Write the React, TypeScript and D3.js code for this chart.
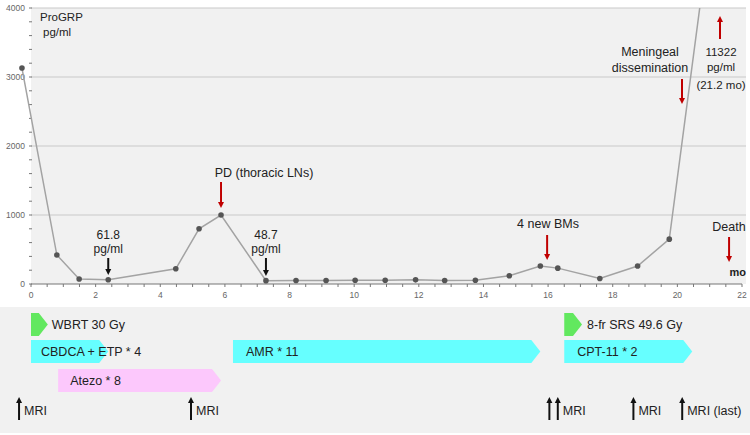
import React from 'react';
import * as d3 from 'd3';

// ProGRP course (months, pg/ml)
const months = [-0.28, 0.8, 1.49, 2.39, 4.48, 5.2, 5.88, 7.27, 8.2, 9.13, 10.03, 10.96, 11.9, 12.8, 13.75, 14.8, 15.76, 16.3, 17.6, 18.77, 19.75, 22.75];
const progrp = [3130, 420, 72, 61.8, 220, 800, 1000, 48.7, 50, 50, 55, 55, 60, 50, 55, 120, 260, 230, 80, 260, 650, 11322];

const xTicks = [0, 2, 4, 6, 8, 10, 12, 14, 16, 18, 20, 22];
const yTicks = [0, 1000, 2000, 3000, 4000];

// treatment bars: start / end month, row
const treatments = [
  { label: 'WBRT 30 Gy', start: 0, end: 0.52, row: 0, color: '#62e85f', dx: 4 },
  { label: 'CBDCA + ETP * 4', start: 0, end: 2.39, row: 1, color: '#66ffff', dx: 10 },
  { label: 'AMR * 11', start: 6.25, end: 15.76, row: 1, color: '#66ffff', dx: 13 },
  { label: 'Atezo * 8', start: 0.84, end: 5.88, row: 2, color: '#fcc8fc', dx: 12 },
  { label: '8-fr SRS 49.6 Gy', start: 16.5, end: 17.05, row: 0, color: '#62e85f', dx: 5 },
  { label: 'CPT-11 * 2', start: 16.5, end: 20.46, row: 1, color: '#66ffff', dx: 13 },
];

const mriMonths = [-0.37, 4.95, 16.04, 16.3, 18.64, 20.15];
const mriLabels = ['MRI', 'MRI', '', 'MRI', 'MRI', 'MRI (last)'];

const FONT = '"Liberation Sans", Arial, sans-serif';

const Arrow = ({ x, y1, y2, color }: { x: number; y1: number; y2: number; color: string }) => {
  // y1 = tail, y2 = tip
  const dir = y2 > y1 ? 1 : -1;
  return (
    <g>
      <line x1={x} x2={x} y1={y1} y2={y2 - dir * 5} stroke={color} strokeWidth={2} />
      <path d={`M${x - 3},${y2 - dir * 6} L${x + 3},${y2 - dir * 6} L${x},${y2} Z`} fill={color} />
    </g>
  );
};

const App = () => {
  const w = 750, h = 435;
  const x = d3.scaleLinear().domain([0, 22]).range([31, 742]);
  const y = d3.scaleLinear().domain([0, 4000]).range([284, 8]);

  const line = d3.line<number>()
    .x((d, i) => x(months[i]))
    .y(d => y(d));

  const minorX = d3.range(0, 22.01, 0.5);
  const minorY = d3.range(0, 4001, 200);

  const rowY = [313, 340, 369];
  const barH = 23;

  return (
    <svg width={w} height={h} style={{ position: 'absolute', left: 0, top: 0, fontFamily: FONT }}>
      <defs>
        <clipPath id="plot">
          <rect x={0} y={y(4000)} width={w} height={y(0) - y(4000)} />
        </clipPath>
      </defs>
      <rect x={0} y={0} width={w} height={h} fill="#fff" />
      {/* plot area */}
      <rect x={x(0)} y={y(4000)} width={x(22) - x(0) + 4} height={y(0) - y(4000)} fill="#f1f1f1" />
      {yTicks.filter(t => t > 0).map(t => (
        <line key={t} x1={x(0)} x2={x(22) + 4} y1={y(t)} y2={y(t)} stroke="#c9c9c9" strokeWidth={1.2} />
      ))}
      {/* y ticks */}
      {minorY.map(t => (
        <line key={'my' + t} x1={x(0) - 2} x2={x(0) + 1} y1={y(t)} y2={y(t)} stroke="#777" strokeWidth={1} />
      ))}
      {yTicks.map(t => (
        <text key={'yl' + t} x={x(0) - 6} y={y(t) + 3} textAnchor="end" fontSize={8.5} fill="#666">{t}</text>
      ))}
      {/* x axis */}
      <line x1={x(0)} x2={x(22)} y1={y(0)} y2={y(0)} stroke="#777" strokeWidth={1.2} />
      {minorX.map(t => (
        <line key={'mx' + t} x1={x(t)} x2={x(t)} y1={y(0)} y2={y(0) + 3} stroke="#777" strokeWidth={1} />
      ))}
      {xTicks.map(t => (
        <text key={'xl' + t} x={x(t)} y={y(0) + 14} textAnchor="middle" fontSize={8.5} fill="#666">{t}</text>
      ))}

      {/* series */}
      <g clipPath="url(#plot)">
        <path d={line(progrp) || ''} fill="none" stroke="#a3a3a3" strokeWidth={1.5} />
      </g>
      {progrp.map((v, i) => v <= 4000 ? (
        <circle key={'p' + i} cx={x(months[i])} cy={y(v)} r={2.8} fill="#555" />
      ) : null)}

      {/* annotations */}
      <text x={40} y={21} fontSize={11.5} fill="#222">ProGRP</text>
      <text x={43} y={36} fontSize={11.5} fill="#222">pg/ml</text>

      <text x={x(2.39)} y={239} textAnchor="middle" fontSize={12} fill="#222">61.8</text>
      <text x={x(2.39)} y={253} textAnchor="middle" fontSize={12} fill="#222">pg/ml</text>
      <Arrow x={x(2.39)} y1={258} y2={275} color="#111" />

      <text x={264} y={177} textAnchor="middle" fontSize={12.5} fill="#222">PD (thoracic LNs)</text>
      <Arrow x={x(5.88)} y1={182} y2={208} color="#c00000" />

      <text x={x(7.27)} y={239} textAnchor="middle" fontSize={12} fill="#222">48.7</text>
      <text x={x(7.27)} y={253} textAnchor="middle" fontSize={12} fill="#222">pg/ml</text>
      <Arrow x={x(7.27)} y1={258} y2={276} color="#111" />

      <text x={548} y={228} textAnchor="middle" fontSize={12.5} fill="#222">4 new BMs</text>
      <Arrow x={x(15.97)} y1={235} y2={260} color="#c00000" />

      <text x={729} y={231} textAnchor="middle" fontSize={12.5} fill="#222">Death</text>
      <Arrow x={x(21.6)} y1={237} y2={262} color="#c00000" />
      <text x={746} y={276} textAnchor="end" fontSize={11} fontWeight="bold" fill="#222">mo</text>

      <text x={650} y={56} textAnchor="middle" fontSize={12.5} fill="#222">Meningeal</text>
      <text x={650} y={72} textAnchor="middle" fontSize={12.5} fill="#222">dissemination</text>
      <Arrow x={682} y1={79} y2={104} color="#c00000" />

      <Arrow x={720} y1={39} y2={16} color="#c00000" />
      <text x={721} y={56} textAnchor="middle" fontSize={11.5} fill="#222">11322</text>
      <text x={721} y={71} textAnchor="middle" fontSize={11.5} fill="#222">pg/ml</text>
      <text x={721} y={89} textAnchor="middle" fontSize={11.5} fill="#222">(21.2 mo)</text>

      {/* treatment panel */}
      <rect x={0} y={307} width={w} height={126} fill="#f1f1f1" />
      {treatments.map((t, i) => {
        const x0 = x(t.start), x1 = x(t.end), y0 = rowY[t.row];
        const tip = 9;
        const d = `M${x0},${y0} L${x1 - tip},${y0} L${x1},${y0 + barH / 2} L${x1 - tip},${y0 + barH} L${x0},${y0 + barH} Z`;
        const lx = t.row === 0 ? x1 + t.dx : x0 + t.dx;
        return (
          <g key={'t' + i}>
            <path d={d} fill={t.color} />
            <text x={lx} y={y0 + 16} fontSize={12.5} fill="#222">{t.label}</text>
          </g>
        );
      })}
      {mriMonths.map((m, i) => (
        <g key={'m' + i}>
          <Arrow x={x(m)} y1={420} y2={397} color="#111" />
          {mriLabels[i] && <text x={x(m) + 5} y={415} fontSize={12.5} fill="#222">{mriLabels[i]}</text>}
        </g>
      ))}
    </svg>
  );
};

export default App;
